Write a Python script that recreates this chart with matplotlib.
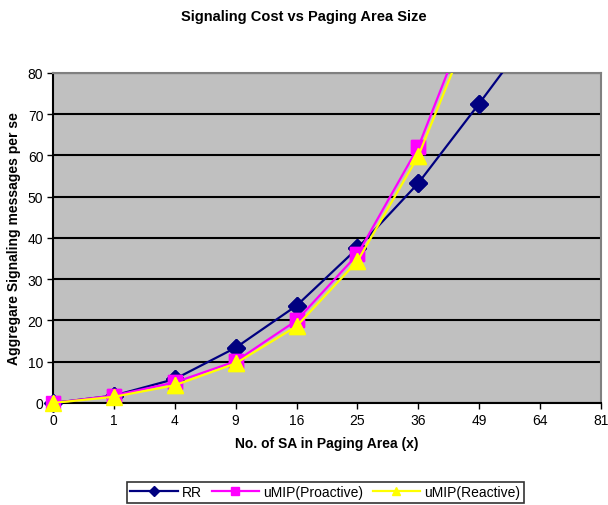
import numpy as np
import matplotlib
matplotlib.use("Agg")
import matplotlib.pyplot as plt

plt.rcParams["font.family"] = ["Liberation Sans", "DejaVu Sans"]

# Paging area sizes (category axis) and signaling cost per series
sa_labels = ["0", "1", "4", "9", "16", "25", "36", "49", "64", "81"]
rr = [0, 1.8, 5.8, 13.4, 23.6, 37.5, 53.3, 72.6, 92.4, np.nan]
umip_proactive = [0, 1.8, 5.0, 10.1, 20.0, 36.0, 62.1, 99.7, np.nan, np.nan]
umip_reactive = [0, 1.5, 4.3, 9.6, 18.6, 34.4, 59.9, 96.3, np.nan, np.nan]

YMAX = 80

fig = plt.figure(figsize=(6.08, 5.06), dpi=100)
ax = fig.add_axes([0.0872, 0.2016, 0.9013, 0.6522])
ax.set_facecolor("#C0C0C0")

pos = np.arange(len(sa_labels))
series = [
    (rr, "#000080", "D", 9, "RR"),
    (umip_proactive, "#FF00FF", "s", 10, "uMIP(Proactive)"),
    (umip_reactive, "#FFFF00", "^", 11, "uMIP(Reactive)"),
]
for z, (vals, col, mk, ms, name) in enumerate(series):
    vals = np.asarray(vals, dtype=float)
    # lines are clipped to the plot area, markers inside the range are not
    ax.plot(pos, vals, color=col, lw=1.6, marker=mk, ms=ms, mfc=col, mec=col,
            label=name, zorder=3 + z)
    shown = np.where(vals <= YMAX, vals, np.nan)
    ax.plot(pos, shown, ls="none", marker=mk, ms=ms, mfc=col, mec=col,
            clip_on=False, zorder=3 + z)

ax.set_xlim(0, len(sa_labels) - 1)
ax.set_ylim(0, YMAX)
ax.set_xticks(pos)
ax.set_xticklabels(sa_labels)
ax.set_yticks(range(0, YMAX + 1, 10))
ax.yaxis.grid(True, color="black", lw=1.5)
ax.set_axisbelow(True)
ax.tick_params(axis="both", direction="out", length=4, width=1,
               labelsize=10, colors="black", pad=3)

for side in ("top", "right"):
    ax.spines[side].set_color("#808080")
    ax.spines[side].set_linewidth(1.5)
for side in ("left", "bottom"):
    ax.spines[side].set_color("black")
    ax.spines[side].set_linewidth(1.5)

fig.text(0.5, 0.966, "Signaling Cost vs Paging Area Size", ha="center",
         va="center", fontsize=10.5, fontweight="bold")
ax.set_xlabel("No. of SA in Paging Area (x)", fontsize=10, fontweight="bold",
              labelpad=7)
ax.set_ylabel("Aggregare Signaling messages per se", fontsize=10,
              fontweight="bold", labelpad=5)

leg = fig.legend(loc="center", bbox_to_anchor=(0.535, 0.025), ncol=3,
                 fontsize=10, frameon=True, fancybox=False, edgecolor="black",
                 handlelength=3.4, columnspacing=0.7, handletextpad=0.3,
                 borderpad=0.25, borderaxespad=0, markerscale=0.55)
leg.get_frame().set_linewidth(1.2)

fig.savefig("out.png", dpi=100)
